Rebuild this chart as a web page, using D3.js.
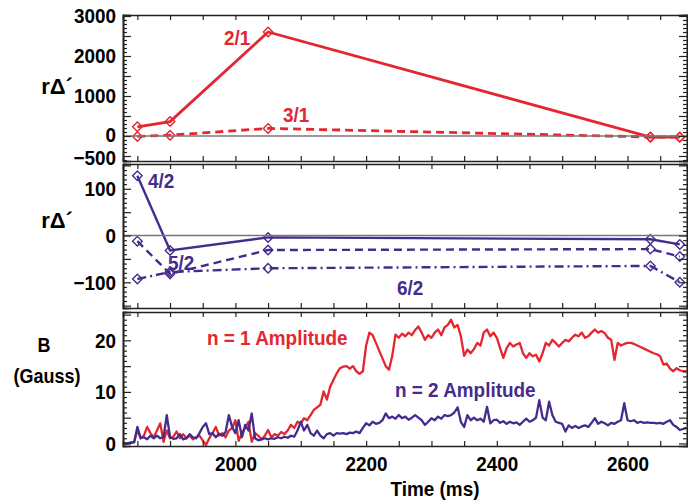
<!DOCTYPE html>
<html><head><meta charset="utf-8">
<script src="https://cdn.jsdelivr.net/npm/d3@7"></script>
<style>
html,body{margin:0;padding:0;background:#fff;}
text{font-family:"Liberation Sans",Arial,sans-serif;font-weight:bold;}
</style></head>
<body><svg id="c" width="688" height="504"></svg>
<script>
// ---- data ----
const times = [1850, 1900, 2050, 2635, 2680];
const r21 = [230, 360, 2600, -30, -30];
const r31 = [-10, 20, 190, -25, -25];
const r42 = [128, -32, -4, -8, -19];
const r52 = [-12, -82, -31, -29, -45];
const r62 = [-93, -78, -70, -65, -100];

const ampStart = 1830, ampStep = 5;
const n1Amp = [0,0,0.2,0.3,2.6,1.0,1.5,3.2,2.0,1.2,2.5,3.9,0.3,2.5,1.0,1.3,2.3,1.0,1.8,1.0,1.5,0.8,1.2,1.5,0.6,-0.3,1.0,2.0,3.2,1.5,2.0,1.2,2.5,3.0,4.5,0.5,2.0,3.0,4.2,0.3,2.0,1.5,0.8,1.5,2.6,1.2,1.8,1.5,2.2,1.8,2.5,3.6,3.0,4.2,3.8,4.9,4.5,5.5,6.5,7.0,7.5,10.1,8.5,11.0,12.3,13.6,14.6,14.9,15.0,14.5,15.0,14.0,13.5,14.0,19.0,21.5,21.0,19.5,18.0,16.5,15.0,14.3,17.0,21.1,20.5,21.3,20.8,21.5,21.0,22.0,22.7,21.5,20.1,21.0,20.5,21.5,22.1,21.0,22.5,23.0,24.0,22.5,23.0,20.8,17.0,18.2,17.5,18.3,19.5,19.0,21.5,22.1,20.8,21.5,20.5,18.5,16.6,18.5,19.5,18.8,19.2,19.5,17.5,16.6,17.5,16.9,17.2,15.9,17.5,19.5,19.0,20.1,19.5,18.8,19.5,20.1,19.8,20.5,21.1,20.8,21.5,20.5,20.8,21.5,22.1,21.5,21.8,21.4,20.5,20.1,16.2,19.5,19.0,19.3,19.5,19.5,19.3,19.0,18.7,18.4,18.1,17.8,17.5,17.3,16.9,15.3,15.5,14.5,14.0,14.6,14.2,14.0,14.0];
const n2Amp = [0,0,0.1,0.2,3.2,1.0,1.2,0.8,1.5,1.0,1.5,1.0,1.2,5.5,1.2,0.9,1.0,1.8,0.8,1.0,1.8,1.2,1.0,2.0,3.2,3.9,1.8,2.0,1.2,1.9,1.5,2.2,5.5,3.2,2.0,4.5,1.2,3.6,2.5,5.8,1.0,0.6,0.8,1.0,0.8,1.0,0.9,1.2,1.0,1.3,1.1,1.5,1.3,2.5,4.2,2.5,3.6,2.0,1.5,2.5,1.5,1.0,1.8,2.0,1.5,2.0,1.9,2.0,1.8,2.1,2.0,2.3,2.0,3.0,3.9,3.5,4.2,3.8,4.0,4.5,5.8,4.9,5.2,4.8,5.5,4.9,5.2,4.6,5.0,5.5,5.0,4.5,3.6,4.2,4.9,4.5,5.2,4.8,5.5,5.3,5.5,6.0,7.0,4.2,3.2,5.5,4.5,5.0,4.5,4.8,4.2,7.1,3.9,4.5,4.6,4.0,4.3,3.8,4.2,3.9,4.1,3.6,4.2,4.8,4.2,4.5,5.0,8.4,5.0,4.5,8.1,5.5,4.2,4.0,3.8,2.3,3.5,3.0,3.4,3.0,3.3,3.5,3.2,4.0,4.9,3.8,4.2,3.9,3.5,4.0,3.8,4.2,4.5,7.8,4.5,4.3,4.5,4.0,4.2,4.0,4.1,4.0,4.0,3.9,4.0,3.8,4.2,4.5,3.6,3.2,2.6,2.8,3.0];

const xTickLabels = [2000, 2200, 2400, 2600];
const topLabels = [3000, 2000, 1000, 0, -500];
const midLabels = [100, 0, -100];
const botLabels = [20, 10, 0];

// ---- layout ----
const RED = "#e3262f", PUR = "#452c8c";
const L = 123, R = 687;
const svg = d3.select("#c");
svg.append("rect").attr("width",688).attr("height",504).attr("fill","#fff");

const x = d3.scaleLinear().domain([1828, 2691]).range([L, R]);
const panels = [
  {top:15, bot:161, dom:[-625, 3025], labels:topLabels, major:500, minor:100, zero:true},
  {top:164, bot:308, dom:[-155, 153], labels:midLabels, major:50, minor:10, zero:true},
  {top:312, bot:446, dom:[-0.5, 25.5], labels:botLabels, major:5, minor:1, zero:false}
];
panels.forEach(p => { p.y = d3.scaleLinear().domain(p.dom).range([p.bot, p.top]); });

const xTicks = d3.range(1850, 2691, 50);

function frame(p, showX) {
  const g = svg.append("g");
  const [d0, d1] = p.dom;
  const majors = d3.range(Math.ceil(d0/p.major)*p.major, d1+1e-9, p.major);
  const minors = d3.range(Math.ceil(d0/p.minor)*p.minor, d1+1e-9, p.minor).filter(v => Math.abs(v/p.major - Math.round(v/p.major))>1e-6);
  if (p.zero) {
    g.append("line").attr("x1",L).attr("x2",R).attr("y1",p.y(0)).attr("y2",p.y(0))
      .attr("stroke","#777").attr("stroke-width",1.5);
  }
  const ax = (gen, tx, ty) => g.append("g").attr("transform",`translate(${tx},${ty})`).call(gen);
  ax(d3.axisLeft(p.y).tickValues(minors).tickSize(-4).tickFormat(""), L, 0);
  ax(d3.axisLeft(p.y).tickValues(majors).tickSize(-8).tickFormat(""), L, 0);
  ax(d3.axisRight(p.y).tickValues(minors).tickSize(-4).tickFormat(""), R, 0);
  ax(d3.axisRight(p.y).tickValues(majors).tickSize(-8).tickFormat(""), R, 0);
  const lab = ax(d3.axisLeft(p.y).tickValues(p.labels).tickSize(0).tickPadding(7).tickFormat(d3.format("d")), L, 0);
  lab.select(".domain").remove();
  lab.selectAll("text").attr("font-size",21).attr("fill","#000").attr("class","tl")
    .attr("dy", d => (p.labels === topLabels && d === 0) ? "0.25em" : (p.labels === topLabels && d === -500) ? "0.42em" : "0.32em");
  ax(d3.axisTop(x).tickValues(xTicks).tickSize(-5).tickFormat(""), 0, p.top);
  ax(d3.axisBottom(x).tickValues(xTicks).tickSize(-5).tickFormat(""), 0, p.bot);
  if (showX) {
    const xl = ax(d3.axisBottom(x).tickValues(xTickLabels).tickSize(0).tickPadding(10).tickFormat(d3.format("d")), 0, p.bot);
    xl.select(".domain").remove();
    xl.selectAll("text").attr("font-size",21).attr("fill","#000");
  }
  g.selectAll(".domain").attr("stroke","#222").attr("stroke-width",1.6);
  g.selectAll(".tick line").attr("stroke","#222").attr("stroke-width",1.2);
  return g;
}

function modeLine(p, vals, color, dash, w) {
  const pts = times.map((t,i)=>[t, vals[i]]);
  const line = d3.line().x(d=>x(d[0])).y(d=>p.y(d[1]));
  svg.append("path").attr("d", line(pts)).attr("fill","none").attr("stroke",color)
    .attr("stroke-width",w).attr("stroke-dasharray",dash);
  svg.append("g").selectAll("path").data(pts).join("path")
    .attr("d", d3.symbol(d3.symbolDiamond2, 58)())
    .attr("transform", d=>`translate(${x(d[0])},${p.y(d[1])})`)
    .attr("fill","none").attr("stroke",color).attr("stroke-width",1.4);
}

const [P1, P2, P3] = panels;
modeLine(P1, r21, RED, null, 2.8);
modeLine(P1, r31, RED, "8,5", 2.8);
modeLine(P2, r42, PUR, null, 2.4);
modeLine(P2, r52, PUR, "8,5", 2.4);
modeLine(P2, r62, PUR, "9,4,2,4", 2.4);

const ampLine = d3.line().x((d,i)=>x(ampStart + i*ampStep)).y(d=>P3.y(d));
svg.append("path").attr("d", ampLine(n1Amp)).attr("fill","none").attr("stroke",RED).attr("stroke-width",2.3).attr("stroke-linejoin","round");
svg.append("path").attr("d", ampLine(n2Amp)).attr("fill","none").attr("stroke",PUR).attr("stroke-width",2.3).attr("stroke-linejoin","round");

frame(P1, false);
frame(P2, false);
frame(P3, true);

function txt(s, xx, yy, color, size, anchor) {
  return svg.append("text").attr("x",xx).attr("y",yy).attr("fill",color)
    .attr("font-size",size).attr("text-anchor",anchor||"start").text(s);
}
txt("rΔ´", 57, 94, "#000", 22, "middle").classed("noc", true);
txt("rΔ´", 57, 228, "#000", 22, "middle").classed("noc", true);
txt("B", 44, 352, "#000", 20, "middle");
txt("(Gauss)", 47, 383, "#000", 20, "middle");
txt("2/1", 224, 45, RED, 21);
txt("3/1", 283, 122, RED, 21);
txt("4/2", 148, 188, PUR, 21);
txt("5/2", 168, 270, PUR, 21);
txt("6/2", 397, 295, PUR, 21);
txt("n = 1 Amplitude", 207, 345, RED, 21);
txt("n = 2 Amplitude", 395, 397, PUR, 21);
txt("Time (ms)", 435, 496, "#000", 21, "middle");

// condensed look of the original lettering
svg.selectAll("text").filter(function(){ return !this.classList.contains("noc"); }).each(function(){
  const w = this.getComputedTextLength();
  this.setAttribute("textLength", (w*0.9).toFixed(1));
  this.setAttribute("lengthAdjust", "spacingAndGlyphs");
});
</script></body></html>
